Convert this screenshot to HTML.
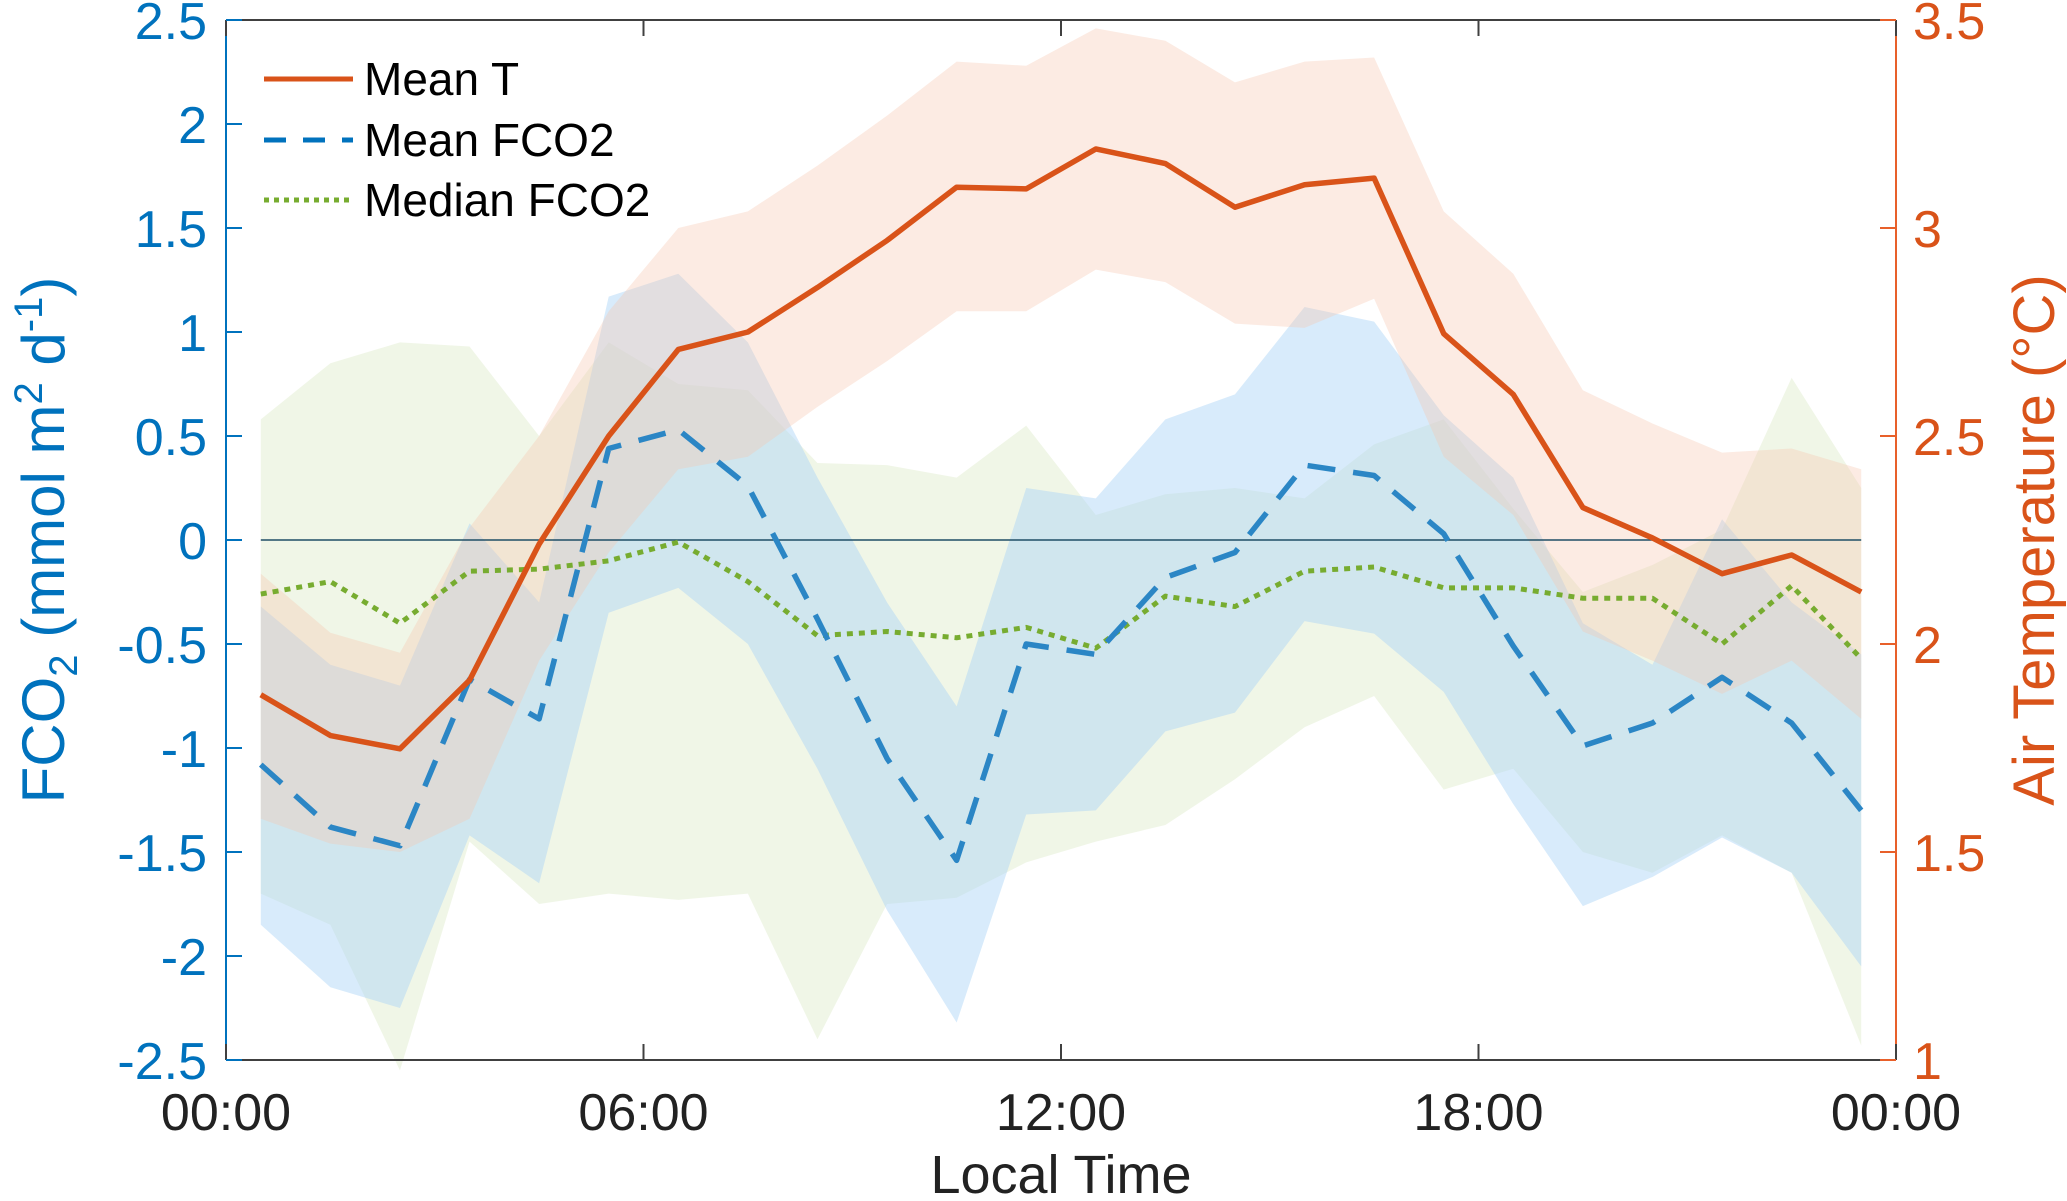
<!DOCTYPE html>
<html><head><meta charset="utf-8">
<style>
html,body{margin:0;padding:0;background:#fff;}
svg{display:block;font-family:"Liberation Sans",Arial,sans-serif;}
</style></head>
<body>
<svg id="chart" width="2067" height="1201" viewBox="0 0 2067 1201" xmlns="http://www.w3.org/2000/svg">
<g id="bands"></g>
<g id="lines"></g>
<g id="axes"></g>
</svg>
<script>
const hours = [0.5,1.5,2.5,3.5,4.5,5.5,6.5,7.5,8.5,9.5,10.5,11.5,12.5,13.5,14.5,15.5,16.5,17.5,18.5,19.5,20.5,21.5,22.5,23.5];
const meanT = [1.878,1.78,1.748,1.913,2.24,2.5,2.708,2.75,2.857,2.97,3.098,3.094,3.19,3.155,3.05,3.104,3.12,2.746,2.6,2.328,2.255,2.169,2.214,2.125];
const tUpper = [2.169,2.027,1.979,2.28,2.50,2.80,3.0,3.04,3.15,3.27,3.40,3.39,3.48,3.45,3.35,3.40,3.41,3.04,2.89,2.61,2.53,2.46,2.47,2.42];
const tLower = [1.58,1.52,1.50,1.58,1.96,2.22,2.42,2.45,2.57,2.68,2.80,2.80,2.90,2.87,2.77,2.76,2.83,2.45,2.31,2.03,1.96,1.88,1.96,1.82];
const meanF = [-1.08,-1.38,-1.47,-0.67,-0.86,0.44,0.53,0.26,-0.38,-1.05,-1.54,-0.50,-0.55,-0.18,-0.06,0.36,0.31,0.03,-0.51,-0.99,-0.88,-0.66,-0.88,-1.30];
const fUpper = [-0.32,-0.6,-0.7,0.08,-0.3,1.17,1.28,0.95,0.3,-0.3,-0.8,0.25,0.2,0.58,0.7,1.12,1.05,0.6,0.3,-0.4,-0.6,0.1,-0.3,-0.55];
const fLower = [-1.85,-2.15,-2.25,-1.42,-1.65,-0.35,-0.23,-0.5,-1.1,-1.78,-2.32,-1.32,-1.3,-0.92,-0.83,-0.39,-0.45,-0.73,-1.27,-1.76,-1.62,-1.43,-1.6,-2.05];
const medF = [-0.26,-0.2,-0.4,-0.15,-0.14,-0.1,-0.01,-0.2,-0.46,-0.44,-0.47,-0.42,-0.52,-0.27,-0.32,-0.15,-0.13,-0.23,-0.23,-0.28,-0.28,-0.5,-0.22,-0.57];
const mUpper = [0.58,0.85,0.95,0.93,0.5,0.95,0.75,0.72,0.37,0.36,0.3,0.55,0.12,0.22,0.25,0.2,0.46,0.58,0.15,-0.25,-0.12,0.05,0.78,0.25];
const mLower = [-1.7,-1.85,-2.55,-1.45,-1.75,-1.7,-1.73,-1.7,-2.4,-1.75,-1.72,-1.55,-1.45,-1.37,-1.15,-0.9,-0.75,-1.2,-1.1,-1.5,-1.6,-1.42,-1.6,-2.43];
const xTicks = [0,6,12,18,24];
const xTickLabels = ["00:00","06:00","12:00","18:00","00:00"];
const yLeftTicks = [-2.5,-2,-1.5,-1,-0.5,0,0.5,1,1.5,2,2.5];
const yRightTicks = [1,1.5,2,2.5,3,3.5];

const PL=226,PR=1896,PT=20,PB=1060;
const NS="http://www.w3.org/2000/svg";
const xS=h=>PL+(h/24)*(PR-PL);
const yF=v=>PB-(v+2.5)/5*(PB-PT);
const yT=v=>PB-(v-1)/2.5*(PB-PT);
function mk(tag,attrs,parent){const e=document.createElementNS(NS,tag);for(const k in attrs)e.setAttribute(k,attrs[k]);parent.appendChild(e);return e;}
const gBands=document.getElementById('bands'),gLines=document.getElementById('lines'),gAxes=document.getElementById('axes');

function band(up,lo,ys,fill,op,name){
  let pts=hours.map((h,i)=>xS(h)+','+ys(up[i]));
  pts=pts.concat(hours.map((h,i)=>xS(h)+','+ys(lo[i])).reverse());
  const p=mk('polygon',{points:pts.join(' '),fill:fill,'fill-opacity':op},gBands);
  
  
}
band(mUpper,mLower,yF,'#cfe3b5',0.32,'median-fco2-band');
band(fUpper,fLower,yF,'#a9d3f7',0.45,'mean-fco2-band');
band(tUpper,tLower,yT,'#f7c6ae',0.35,'mean-t-band');

const zl=mk('line',{x1:xS(0.5),x2:xS(23.5),y1:yF(0),y2:yF(0),stroke:'#1f4e66','stroke-width':1.5},gLines);



function line(vals,ys,color,w,dash,name){
  const p=mk('polyline',{points:hours.map((h,i)=>xS(h)+','+ys(vals[i])).join(' '),fill:'none',stroke:color,'stroke-width':w,'stroke-dasharray':dash,'stroke-linejoin':'round'},gLines);
  
  
}
line(medF,yF,'#77AC30',5,'6 6','median-fco2-line');
line(meanF,yF,'#2b86c5',5.5,'28 18','mean-fco2-line');
line(meanT,yT,'#D95319',5.5,'none','mean-t-line');

const topBorder=mk('line',{x1:PL,x2:PR,y1:PT,y2:PT,stroke:'#404040','stroke-width':2},gAxes);


const botAxis=mk('line',{x1:PL,x2:PR,y1:PB,y2:PB,stroke:'#404040','stroke-width':2},gAxes);


const leftAxis=mk('line',{x1:PL,x2:PL,y1:PT,y2:PB,stroke:'#0072BD','stroke-width':2},gAxes);


const rightAxis=mk('line',{x1:PR,x2:PR,y1:PT,y2:PB,stroke:'#E8602A','stroke-width':2},gAxes);



xTicks.forEach((h,i)=>{
  const x=xS(h);
  mk('line',{x1:x,x2:x,y1:PB,y2:PB-16,stroke:'#404040','stroke-width':2},gAxes);
  mk('line',{x1:x,x2:x,y1:PT,y2:PT+16,stroke:'#404040','stroke-width':2},gAxes);
  const t=mk('text',{x:x,y:1130,'text-anchor':'middle','font-size':52,fill:'#222'},gAxes);
  t.textContent=xTickLabels[i];
  
  
});
yLeftTicks.forEach(v=>{
  const y=yF(v);
  mk('line',{x1:PL,x2:PL+16,y1:y,y2:y,stroke:'#0072BD','stroke-width':2},gAxes);
  const t=mk('text',{x:207,y:y+19,'text-anchor':'end','font-size':52,fill:'#0072BD'},gAxes);
  t.textContent=String(v);
  
  
});
yRightTicks.forEach(v=>{
  const y=yT(v);
  mk('line',{x1:PR,x2:PR-16,y1:y,y2:y,stroke:'#E8602A','stroke-width':2},gAxes);
  const t=mk('text',{x:1913,y:y+19,'text-anchor':'start','font-size':52,fill:'#D95319'},gAxes);
  t.textContent=String(v);
  
  
});
</script>
<svg style="position:absolute;left:0;top:0" width="2067" height="1201" xmlns="http://www.w3.org/2000/svg">
<text x="1061" y="1193" text-anchor="middle" font-size="54" fill="#222" font-family="Liberation Sans, sans-serif">Local Time</text>
<text transform="translate(64,540) rotate(-90)" text-anchor="middle" font-size="60" fill="#0072BD" font-family="Liberation Sans, sans-serif">FCO<tspan font-size="40" dy="13">2</tspan><tspan dy="-13"> (mmol m</tspan><tspan font-size="40" dy="-22">2</tspan><tspan dy="22"> d</tspan><tspan font-size="40" dy="-22">-1</tspan><tspan dy="22">)</tspan></text>
<text transform="translate(2054,540) rotate(-90)" text-anchor="middle" font-size="58" fill="#D95319" font-family="Liberation Sans, sans-serif">Air Temperature (°C)</text>
<g font-family="Liberation Sans, sans-serif" font-size="46" fill="#000">
<line x1="264" y1="79" x2="353" y2="79" stroke="#D95319" stroke-width="5"/>
<text x="364" y="95">Mean T</text>
<line x1="264" y1="140" x2="353" y2="140" stroke="#0072BD" stroke-width="5" stroke-dasharray="22 17"/>
<text x="364" y="156">Mean FCO2</text>
<line x1="264" y1="200" x2="353" y2="200" stroke="#77AC30" stroke-width="5" stroke-dasharray="5 5"/>
<text x="364" y="216">Median FCO2</text>
</g>
</svg>
</body></html>
